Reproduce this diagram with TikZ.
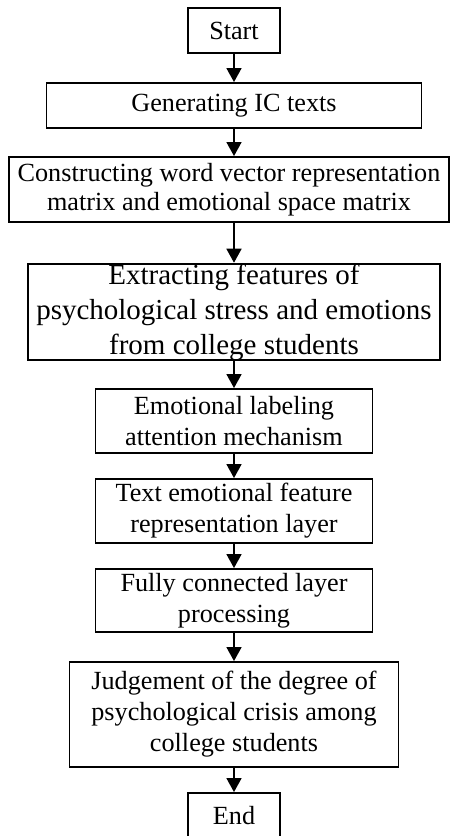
\documentclass[tikz,border=0pt]{standalone}
\usepackage{fontspec}
\setmainfont{Liberation Serif}
\usetikzlibrary{arrows.meta}
\begin{document}
\begin{tikzpicture}[x=1pt,y=-1pt,
  stepbox/.style={draw=black, line width=1.9pt, fill=white, inner sep=0pt, align=center,
    font=\fontsize{26.2}{31}\selectfont},
  flow/.style={line width=1.6pt, -{Triangle[length=14pt,width=15pt]}}]
\useasboundingbox (0,0) rectangle (450,836);
\node[stepbox, minimum width=92pt, minimum height=45pt] (start) at (234,30.5) {Start};
\node[stepbox, minimum width=375pt, minimum height=45pt] (gen) at (234,105.5) {Generating IC texts};
\node[stepbox, minimum width=440pt, minimum height=65pt, font=\fontsize{26.2}{28.5}\selectfont] (con) at (229,189.5) {Constructing word vector representation\\matrix and emotional space matrix};
\node[stepbox, minimum width=412pt, minimum height=94pt, font=\fontsize{29}{35}\selectfont] (ext) at (234,312) {Extracting features of\\psychological stress and emotions\\from college students};
\node[stepbox, minimum width=277pt, minimum height=64pt] (emo) at (234,421) {Emotional labeling\\attention mechanism};
\node[stepbox, minimum width=277pt, minimum height=64pt] (txt) at (234,511) {Text emotional feature\\representation layer};
\node[stepbox, minimum width=277pt, minimum height=63pt] (ful) at (234,600.5) {Fully connected layer\\processing};
\node[stepbox, minimum width=329pt, minimum height=105pt] (jud) at (234,714.5) {Judgement of the degree of\\psychological crisis among\\college students};
\node[stepbox, minimum width=92pt, minimum height=45pt] (end) at (234,815.5) {End};
\draw[flow] (start.south) -- (gen.north);
\draw[flow] (gen.south) -- (gen.south |- con.north);
\draw[flow] (con.south -| ext.north) -- (ext.north);
\draw[flow] (ext.south) -- (emo.north);
\draw[flow] (emo.south) -- (txt.north);
\draw[flow] (txt.south) -- (ful.north);
\draw[flow] (ful.south) -- (jud.north);
\draw[flow] (jud.south) -- (end.north);
\end{tikzpicture}
\end{document}
